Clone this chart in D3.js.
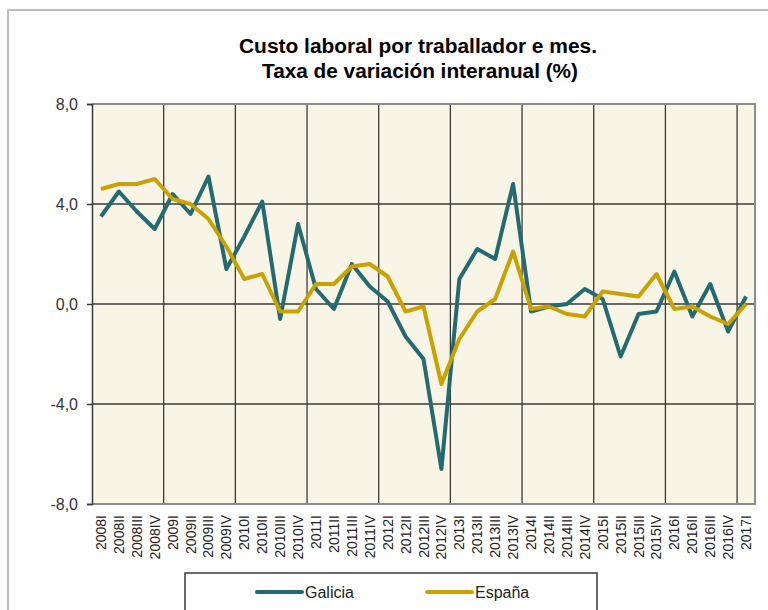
<!DOCTYPE html>
<html>
<head>
<meta charset="utf-8">
<script src="https://cdn.jsdelivr.net/npm/d3@7"></script>
<style>
  body { margin: 0; background: #fff; }
  text { font-family: Arial, "Liberation Sans", sans-serif; }
</style>
</head>
<body>
<div class="svg-container"></div>
<script>
var quarters = ["2008I","2008II","2008III","2008IV","2009I","2009II","2009III","2009IV",
  "2010I","2010II","2010III","2010IV","2011I","2011II","2011III","2011IV",
  "2012I","2012II","2012III","2012IV","2013I","2013II","2013III","2013IV",
  "2014I","2014II","2014III","2014IV","2015I","2015II","2015III","2015IV",
  "2016I","2016II","2016III","2016IV","2017I"];

var galicia = [3.5, 4.5, 3.7, 3.0, 4.4, 3.6, 5.1, 1.4, 2.7, 4.1, -0.6, 3.2, 0.6, -0.2, 1.6, 0.7,
  0.1, -1.3, -2.2, -6.6, 1.0, 2.2, 1.8, 4.8, -0.3, -0.1, 0.0, 0.6, 0.2, -2.1, -0.4, -0.3,
  1.3, -0.5, 0.8, -1.1, 0.3];

var espana = [4.6, 4.8, 4.8, 5.0, 4.2, 4.0, 3.4, 2.3, 1.0, 1.2, -0.3, -0.3, 0.8, 0.8, 1.5, 1.6,
  1.1, -0.3, -0.1, -3.2, -1.4, -0.3, 0.2, 2.1, -0.2, -0.1, -0.4, -0.5, 0.5, 0.4, 0.3, 1.2,
  -0.2, -0.1, -0.5, -0.8, 0.0];

var yTicks = [-8, -4, 0, 4, 8];
var seriesNames = ["Galicia", "España"];
var colors = ["#236b70", "#c9a200"];

var width = 768,
  height = 610;

var plotLeft = 92, plotRight = 755, plotTop = 104, plotBottom = 504;

var svg = d3.select(".svg-container").append("svg")
  .attr("width", width)
  .attr("height", height);

// outer frame of the chart object
svg.append("rect")
  .attr("x", 8).attr("y", 10)
  .attr("width", 780).attr("height", 620)
  .attr("fill", "#fff")
  .attr("stroke", "#bdbdbd")
  .attr("stroke-width", 2);

svg.append("text")
  .attr("x", 418).attr("y", 53)
  .attr("text-anchor", "middle")
  .attr("font-size", 20).attr("font-weight", "bold")
  .attr("textLength", 358).attr("lengthAdjust", "spacingAndGlyphs")
  .text("Custo laboral por traballador e mes.");

svg.append("text")
  .attr("x", 420).attr("y", 78)
  .attr("text-anchor", "middle")
  .attr("font-size", 20).attr("font-weight", "bold")
  .attr("textLength", 316).attr("lengthAdjust", "spacingAndGlyphs")
  .text("Taxa de variación interanual (%)");

var x = d3.scaleBand().domain(quarters).range([plotLeft, plotRight]);
var y = d3.scaleLinear().domain([-8, 8]).range([plotBottom, plotTop]);

svg.append("rect")
  .attr("x", plotLeft).attr("y", plotTop)
  .attr("width", plotRight - plotLeft).attr("height", plotBottom - plotTop)
  .attr("fill", "#f8f5e6");

// vertical grid at each year start
var yearStarts = quarters.filter(function(q, i) { return i > 0 && i % 4 == 0; });
svg.selectAll(".vgrid")
  .data(yearStarts)
  .enter()
  .append("line")
  .attr("class", "vgrid")
  .attr("x1", function(d) { return x(d); })
  .attr("x2", function(d) { return x(d); })
  .attr("y1", plotTop).attr("y2", plotBottom)
  .attr("stroke", "#3a3a3a").attr("stroke-width", 1.3);

svg.selectAll(".hgrid")
  .data(yTicks.filter(function(d) { return d > -8 && d < 8; }))
  .enter()
  .append("line")
  .attr("class", "hgrid")
  .attr("x1", plotLeft).attr("x2", plotRight)
  .attr("y1", function(d) { return y(d); })
  .attr("y2", function(d) { return y(d); })
  .attr("stroke", "#3a3a3a").attr("stroke-width", 1.3);

// plot area border
svg.append("path")
  .attr("d", "M" + plotLeft + "," + plotTop + "H" + plotRight + "V" + plotBottom + "H" + plotLeft)
  .attr("fill", "none")
  .attr("stroke", "#8c8c8c").attr("stroke-width", 2);

var yAxis = d3.axisLeft(y)
  .tickValues(yTicks)
  .tickSize(5)
  .tickPadding(9)
  .tickFormat(function(d) { return d3.format(".1f")(d).replace(".", ",").replace("−", "-"); });

var gy = svg.append("g")
  .attr("transform", "translate(" + plotLeft + ",0)")
  .call(yAxis);
gy.select(".domain").attr("stroke", "#3a3a3a").attr("stroke-width", 1.5);
gy.selectAll(".tick line").attr("stroke", "#3a3a3a").attr("stroke-width", 1.5);
gy.selectAll(".tick text")
  .attr("font-size", 16)
  .attr("font-family", "Arial, 'Liberation Sans', sans-serif")
  .attr("fill", "#333");

svg.selectAll(".xlabel")
  .data(quarters)
  .enter()
  .append("text")
  .attr("class", "xlabel")
  .attr("transform", function(d) {
    return "translate(" + (x(d) + x.bandwidth() / 2 + 5) + ",515) rotate(-90)";
  })
  .attr("text-anchor", "end")
  .attr("font-size", 14)
  .attr("fill", "#222")
  .text(function(d) { return d; });

var line = d3.line()
  .x(function(d, i) { return x(quarters[i]) + x.bandwidth() / 2; })
  .y(function(d) { return y(d); });

svg.append("path")
  .datum(galicia)
  .attr("d", line)
  .attr("fill", "none")
  .attr("stroke", colors[0])
  .attr("stroke-width", 4)
  .attr("stroke-linejoin", "round");

svg.append("path")
  .datum(espana)
  .attr("d", line)
  .attr("fill", "none")
  .attr("stroke", colors[1])
  .attr("stroke-width", 4)
  .attr("stroke-linejoin", "round");

// legend
svg.append("rect")
  .attr("x", 185).attr("y", 573)
  .attr("width", 412).attr("height", 60)
  .attr("fill", "#fff")
  .attr("stroke", "#3a3a3a").attr("stroke-width", 1.5);

var legend = svg.selectAll(".legend")
  .data(seriesNames)
  .enter()
  .append("g")
  .attr("class", "legend")
  .attr("transform", function(d, i) { return "translate(" + (257 + i * 170) + ",592)"; });

legend.append("line")
  .attr("x1", 0).attr("x2", 45)
  .attr("stroke", function(d, i) { return colors[i]; })
  .attr("stroke-width", 4)
  .attr("stroke-linecap", "round");

legend.append("text")
  .attr("x", 48).attr("y", 6)
  .attr("font-size", 16)
  .attr("fill", "#222")
  .text(function(d) { return d; });
</script>
</body>
</html>
